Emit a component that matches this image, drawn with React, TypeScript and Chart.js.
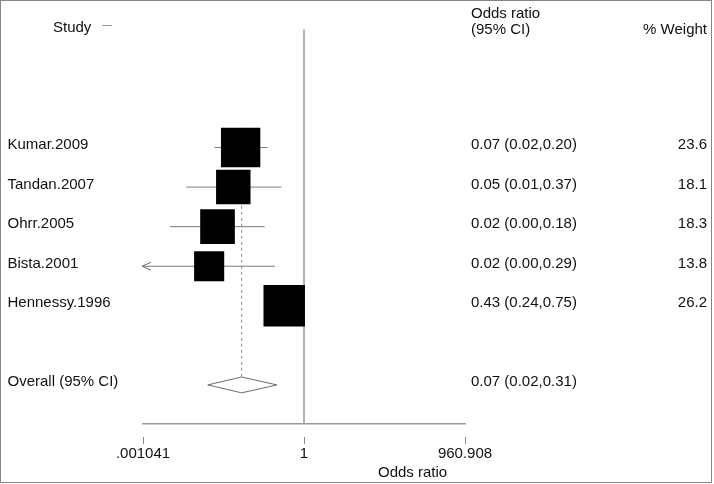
import { useEffect, useRef } from "react";
import { Chart, registerables } from "chart.js";

Chart.register(...registerables);

// ---- data ----
const studies = ["Kumar.2009", "Tandan.2007", "Ohrr.2005", "Bista.2001", "Hennessy.1996"];
const oddsRatio = [0.067, 0.049, 0.025, 0.0175, 0.43];
const ciLower = [0.022, 0.0066, 0.0033, 0.0006, 0.24];
const ciUpper = [0.21, 0.38, 0.187, 0.29, 0.75];
const weights = [23.6, 18.1, 18.3, 13.8, 26.2];
const ciText = [
  "0.07 (0.02,0.20)",
  "0.05 (0.01,0.37)",
  "0.02 (0.00,0.18)",
  "0.02 (0.00,0.29)",
  "0.43 (0.24,0.75)",
];
const weightText = ["23.6", "18.1", "18.3", "13.8", "26.2"];
const overallLabel = "Overall (95% CI)";
const overallOR = 0.07;
const overallLower = 0.0165;
const overallUpper = 0.315;
const overallText = "0.07 (0.02,0.31)";
const xTicks = [0.001041, 1, 960.908];
const xTickLabels = [".001041", "1", "960.908"];
const xTitle = "Odds ratio";
const headStudy = "Study";
const headOR1 = "Odds ratio";
const headOR2 = "(95% CI)";
const headWeight = "% Weight";

const OVERALL_ROW = 6;
const Y_MIN = -2.9875;
const Y_MAX = 6.9875;
const FONT = '15px "Liberation Sans", Arial, sans-serif';

export default function App() {
  const ref = useRef<HTMLCanvasElement | null>(null);

  useEffect(() => {
    const canvas = ref.current;
    if (!canvas) return;
    Chart.defaults.font.family = '"Liberation Sans", Arial, sans-serif';

    const boxDataset = {
      label: "boxes",
      data: oddsRatio.map((v, i) => ({ x: v, y: i })),
      pointStyle: "rect",
      pointRadius: weights.map((w) => (Math.sqrt(w) * 8.1) / (2 * Math.SQRT1_2)),
      backgroundColor: "#000",
      borderWidth: 0,
      showLine: false,
    };

    const ciDatasets = studies.map((s, i) => ({
      label: "ci " + s,
      data: [
        { x: ciLower[i], y: i },
        { x: ciUpper[i], y: i },
      ],
      showLine: true,
      borderColor: "#7a7a7a",
      borderWidth: 1,
      pointRadius: 0,
    }));

    const diamond = {
      label: "overall",
      data: [
        { x: overallLower, y: OVERALL_ROW },
        { x: overallOR, y: OVERALL_ROW - 0.2 },
        { x: overallUpper, y: OVERALL_ROW },
        { x: overallOR, y: OVERALL_ROW + 0.2 },
        { x: overallLower, y: OVERALL_ROW },
      ],
      showLine: true,
      borderColor: "#6e6e6e",
      borderWidth: 1,
      pointRadius: 0,
      fill: false,
    };

    const dashed = {
      label: "overall line",
      data: [
        { x: overallOR, y: -0.5 },
        { x: overallOR, y: OVERALL_ROW - 0.2 },
      ],
      showLine: true,
      borderColor: "#8c8c8c",
      borderWidth: 1,
      borderDash: [3, 3],
      pointRadius: 0,
    };

    const nullLine = {
      label: "null",
      data: [
        { x: 1, y: Y_MIN },
        { x: 1, y: Y_MAX },
      ],
      showLine: true,
      borderColor: "#9a9a9a",
      borderWidth: 1.5,
      pointRadius: 0,
    };

    const forestPlugin = {
      id: "forestText",
      beforeDraw(chart: any) {
        const ctx = chart.ctx;
        ctx.save();
        ctx.fillStyle = "#fff";
        ctx.fillRect(0, 0, chart.width, chart.height);
        ctx.restore();
      },
      afterDraw(chart: any) {
        const ctx = chart.ctx;
        const xs = chart.scales.x;
        const ys = chart.scales.y;
        const area = chart.chartArea;
        ctx.save();
        ctx.font = FONT;
        ctx.fillStyle = "#111";
        ctx.textBaseline = "alphabetic";

        // headers
        ctx.textAlign = "left";
        ctx.fillText(headStudy, 53, 31.5);
        ctx.fillText(headOR1, 471, 18);
        ctx.fillText(headOR2, 471, 34);
        ctx.textAlign = "right";
        ctx.fillText(headWeight, 707, 34);

        // small dash after Study
        ctx.strokeStyle = "#9a9a9a";
        ctx.lineWidth = 1;
        ctx.beginPath();
        ctx.moveTo(102, 25.5);
        ctx.lineTo(112, 25.5);
        ctx.stroke();

        // rows
        studies.forEach((s, i) => {
          const y = ys.getPixelForValue(i) + 1.5;
          ctx.textAlign = "left";
          ctx.fillText(s, 7.5, y);
          ctx.fillText(ciText[i], 471, y);
          ctx.textAlign = "right";
          ctx.fillText(weightText[i], 707, y);
        });
        const yo = ys.getPixelForValue(OVERALL_ROW) + 1.5;
        ctx.textAlign = "left";
        ctx.fillText(overallLabel, 7.5, yo);
        ctx.fillText(overallText, 471, yo);

        // arrows for truncated CIs
        ctx.strokeStyle = "#6a6a6a";
        ctx.lineWidth = 1;
        studies.forEach((s, i) => {
          if (ciLower[i] < xs.min) {
            const px = xs.getPixelForValue(xs.min) - 1;
            const py = ys.getPixelForValue(i);
            ctx.beginPath();
            ctx.moveTo(px + 9, py - 4);
            ctx.lineTo(px, py);
            ctx.lineTo(px + 9, py + 4);
            ctx.stroke();
          }
        });

        // detached tick marks
        ctx.strokeStyle = "#8a8a8a";
        ctx.lineWidth = 1;
        xs.ticks.forEach((t: any) => {
          const px = Math.round(xs.getPixelForValue(t.value)) + 0.5;
          ctx.beginPath();
          ctx.moveTo(px, area.bottom + 13);
          ctx.lineTo(px, area.bottom + 20);
          ctx.stroke();
        });

        // axis title
        ctx.fillStyle = "#111";
        ctx.textAlign = "left";
        ctx.fillText(xTitle, 378, 477);

        // frame
        ctx.strokeStyle = "#858585";
        ctx.lineWidth = 1;
        ctx.strokeRect(0.5, 0.5, 711, 482);
        ctx.restore();
      },
    };

    const chart = new Chart(canvas, {
      type: "scatter",
      data: {
        datasets: [boxDataset, ...ciDatasets, diamond, dashed, nullLine] as any,
      },
      options: {
        animation: false,
        responsive: false,
        maintainAspectRatio: false,
        layout: { padding: { left: 143, right: 249, top: 25, bottom: 0 } },
        plugins: {
          legend: { display: false },
          tooltip: { enabled: false },
        },
        scales: {
          x: {
            type: "logarithmic",
            min: xTicks[0],
            max: xTicks[xTicks.length - 1],
            afterBuildTicks: (scale: any) => {
              scale.ticks = xTicks.map((v) => ({ value: v }));
            },
            ticks: {
              callback: (_v: any, i: number) => xTickLabels[i],
              font: { size: 15 },
              color: "#111",
              padding: 21,
              maxRotation: 0,
              autoSkip: false,
            },
            grid: { display: false, drawTicks: false },
            border: { display: true, color: "#9a9a9a", width: 1.5 },
          },
          y: {
            type: "linear",
            display: false,
            reverse: true,
            min: Y_MIN,
            max: Y_MAX,
          },
        },
      } as any,
      plugins: [forestPlugin],
    });
    return () => chart.destroy();
  }, []);

  return (
    <div style={{ position: "fixed", left: 0, top: 0, width: 714, height: 484, background: "#fff" }}>
      <canvas ref={ref} width={714} height={484} style={{ display: "block" }} />
    </div>
  );
}
